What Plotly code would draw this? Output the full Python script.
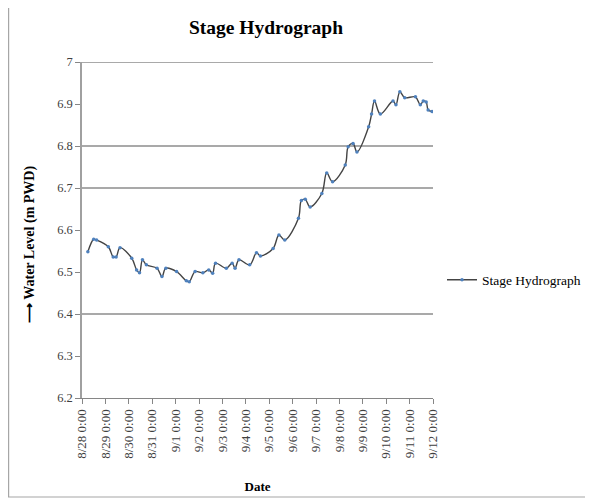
import plotly.graph_objects as go

# ---- data ----
times = [
    "2012-08-28 06:00", "2012-08-28 12:00", "2012-08-28 15:00",
    "2012-08-29 03:00", "2012-08-29 08:00", "2012-08-29 11:00", "2012-08-29 15:00",
    "2012-08-30 03:00", "2012-08-30 08:00", "2012-08-30 11:00", "2012-08-30 14:00", "2012-08-30 18:00",
    "2012-08-31 05:00", "2012-08-31 10:00", "2012-08-31 14:00",
    "2012-09-01 01:00", "2012-09-01 11:00", "2012-09-01 14:00", "2012-09-01 20:00",
    "2012-09-02 04:00", "2012-09-02 10:00", "2012-09-02 14:00", "2012-09-02 17:00",
    "2012-09-03 04:00", "2012-09-03 10:00", "2012-09-03 13:00", "2012-09-03 17:00",
    "2012-09-04 04:00", "2012-09-04 11:00", "2012-09-04 15:00",
    "2012-09-05 04:00", "2012-09-05 10:00", "2012-09-05 16:00",
    "2012-09-06 06:00", "2012-09-06 09:00", "2012-09-06 13:00", "2012-09-06 18:00",
    "2012-09-07 06:00", "2012-09-07 11:00", "2012-09-07 17:00",
    "2012-09-08 06:00", "2012-09-08 09:00", "2012-09-08 14:00", "2012-09-08 18:00",
    "2012-09-09 06:00", "2012-09-09 09:00", "2012-09-09 12:00", "2012-09-09 18:00",
    "2012-09-10 07:00", "2012-09-10 10:00", "2012-09-10 14:00", "2012-09-10 19:00",
    "2012-09-11 06:00", "2012-09-11 11:00", "2012-09-11 14:00", "2012-09-11 17:00",
    "2012-09-11 19:00", "2012-09-11 23:00",
]
water_level = [
    6.548, 6.578, 6.576,
    6.560, 6.536, 6.536, 6.558,
    6.533, 6.505, 6.498, 6.529, 6.517,
    6.509, 6.489, 6.509,
    6.501, 6.479, 6.477, 6.501,
    6.498, 6.505, 6.497, 6.521,
    6.509, 6.521, 6.509, 6.529,
    6.517, 6.546, 6.538,
    6.556, 6.588, 6.576,
    6.628, 6.670, 6.673, 6.655,
    6.687, 6.736, 6.715,
    6.755, 6.798, 6.806, 6.786,
    6.846, 6.876, 6.907, 6.876,
    6.907, 6.898, 6.929, 6.915,
    6.917, 6.898, 6.907, 6.905,
    6.886, 6.882,
]

x_tick_vals = ["2012-08-%02d 00:00" % d for d in range(28, 32)] + \
              ["2012-09-%02d 00:00" % d for d in range(1, 13)]
x_tick_text = ["8/%d 0:00" % d for d in range(28, 32)] + \
              ["9/%d 0:00" % d for d in range(1, 13)]
y_tick_vals = [6.2, 6.3, 6.4, 6.5, 6.6, 6.7, 6.8, 6.9, 7.0]
y_tick_text = ["6.2", "6.3", "6.4", "6.5", "6.6", "6.7", "6.8", "6.9", "7"]
grid_y = [6.4, 6.7, 6.8, 7.0]

SERIF = "Liberation Serif, Times New Roman, serif"

# figure is placed at (8, 8) by the page's default body margin
W, H = 585, 495
L, T, PW, PH = 74, 54, 351, 336


def px_x(fx):
    return (fx - L) / PW


def px_y(fy):
    return (T + PH - fy) / PH


fig = go.Figure()
fig.add_trace(go.Scatter(
    x=times, y=water_level, mode="lines+markers", name="Stage Hydrograph",
    line=dict(color="#444444", width=1.4, shape="spline", smoothing=1.0),
    marker=dict(color="#4F81BD", size=3.5),
))

shapes = []
for g in grid_y:
    shapes.append(dict(type="line", xref="paper", yref="y", x0=0, x1=1, y0=g, y1=g,
                       line=dict(color="#8c8c8c", width=1.3), layer="below"))
# outer chart border
shapes.append(dict(type="rect", xref="paper", yref="paper",
                   x0=px_x(0.6), x1=px_x(584), y0=px_y(489), y1=px_y(-3),
                   line=dict(color="#a6a6a6", width=1.2), layer="below"))

fig.update_layout(
    width=W, height=H,
    margin=dict(l=L, r=W - L - PW, t=T, b=H - T - PH, autoexpand=False),
    paper_bgcolor="white", plot_bgcolor="white",
    font=dict(family=SERIF, color="#404040", size=11),
    title=dict(text="<b>Stage Hydrograph</b>", x=258 / W, xanchor="center",
               y=1 - 19 / H, yanchor="middle",
               font=dict(family=SERIF, size=19.5, color="#000000")),
    showlegend=True,
    legend=dict(x=px_x(434), xanchor="left", y=px_y(272), yanchor="middle",
                font=dict(family=SERIF, size=13.5, color="#000000"),
                bgcolor="rgba(0,0,0,0)", itemwidth=30),
    shapes=shapes,
    xaxis=dict(type="date", range=["2012-08-28 00:00", "2012-09-12 00:00"],
               tickvals=x_tick_vals, ticktext=x_tick_text, tickangle=-90,
               showgrid=False, zeroline=False, showline=True,
               linecolor="#868686", linewidth=1.3,
               ticks="outside", ticklen=5, tickcolor="#868686",
               tickfont=dict(family=SERIF, size=13, color="#404040"),
               title=dict(text="<b>Date</b>", standoff=24,
                          font=dict(family=SERIF, size=13, color="#000000"))),
    yaxis=dict(range=[6.2, 7.0], tickvals=y_tick_vals, ticktext=y_tick_text,
               showgrid=False, zeroline=False, showline=True,
               linecolor="#a0a0a0", linewidth=1.5,
               ticks="outside", ticklen=5, tickcolor="#868686",
               tickfont=dict(family=SERIF, size=12.5, color="#404040")),
    annotations=[dict(
        text="<b>⟶ Water Level (m PWD)</b>", textangle=-90,
        xref="paper", yref="paper", x=px_x(22), y=px_y(237),
        xanchor="center", yanchor="middle", showarrow=False,
        font=dict(family=SERIF, size=14, color="#000000"))],
)

fig.write_html("out.html")
